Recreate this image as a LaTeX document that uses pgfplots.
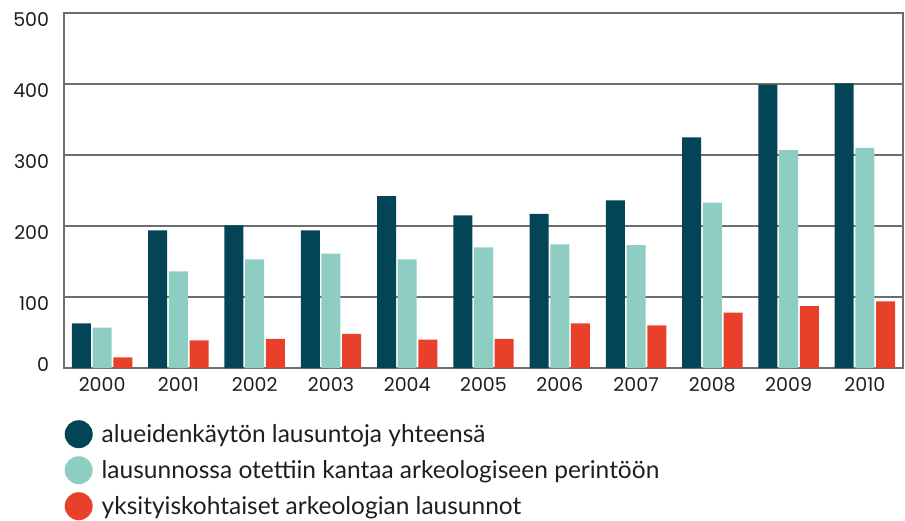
\documentclass[border=0pt]{standalone}
\usepackage{pgfplots}
\pgfplotsset{compat=1.18}
\usepackage{fontspec}
\setmainfont{Lato}
\newfontfamily\tickfont{Poppins}
\definecolor{cdark}{HTML}{034556}
\definecolor{cteal}{HTML}{8ECEC2}
\definecolor{cred}{HTML}{E8412B}
\definecolor{cgrid}{HTML}{6E6E6E}
\definecolor{ctext}{HTML}{1E1E1E}
\pgfplotsset{circ legend/.style={legend image code/.code={\fill[##1] (0pt,0pt) circle (14pt);}}}
\begin{document}
\begin{tikzpicture}
\begin{axis}[
  scale only axis, width=839pt, height=355pt,
  ybar=1.7pt, bar width=19pt,
  xmin=-0.5, xmax=10.5, ymin=0, ymax=500,
  xtick={0,...,10},
  xticklabels={2000,2001,2002,2003,2004,2005,2006,2007,2008,2009,2010},
  ytick={100,200,300,400,500},
  extra y ticks={0},
  extra y tick style={yticklabel style={yshift=10pt}},
  /pgf/number format/assume math mode=true,
  ymajorgrids, grid style={cgrid, line width=1.4pt},
  major tick length=0pt,
  axis line style={cgrid, line width=1.8pt},
  tick label style={font=\tickfont\fontsize{19}{19}\selectfont, text=ctext},
  yticklabel style={anchor=east, inner sep=0pt, xshift=-14.7pt, yshift=-7pt},
  xticklabel style={anchor=north, inner sep=0pt, yshift=-9pt},
  legend style={at={(0,0)}, anchor=north west, xshift=-2.5pt, yshift=-50pt, draw=none, fill=none,
    font=\fontsize{24.5}{24.5}\selectfont, text=ctext, row sep=8pt,
    nodes={inner sep=2pt},
    /tikz/every odd column/.append style={column sep=7pt}},
  legend cell align=left,
  clip=false,
]
\addplot[fill=cdark, draw=none, circ legend] coordinates {(0,63) (1,194) (2,201) (3,194) (4,242) (5,215) (6,217) (7,236) (8,325) (9,399) (10,401)};
\addplot[fill=cteal, draw=none, circ legend] coordinates {(0,57) (1,136) (2,153) (3,161) (4,153) (5,170) (6,174) (7,173) (8,233) (9,307) (10,310)};
\addplot[fill=cred, draw=none, circ legend] coordinates {(0,15) (1,39) (2,41) (3,48) (4,40) (5,41) (6,63) (7,60) (8,78) (9,87) (10,94)};
\legend{alueidenkäytön lausuntoja yhteensä, lausunnossa otettiin kantaa arkeologiseen perintöön, yksityiskohtaiset arkeologian lausunnot}
\coordinate (O) at (rel axis cs:0,0);
\end{axis}
\pgfresetboundingbox
\path[use as bounding box] (O) ++(-64pt,-152pt) rectangle ++(905pt,520pt);
\end{tikzpicture}
\end{document}
